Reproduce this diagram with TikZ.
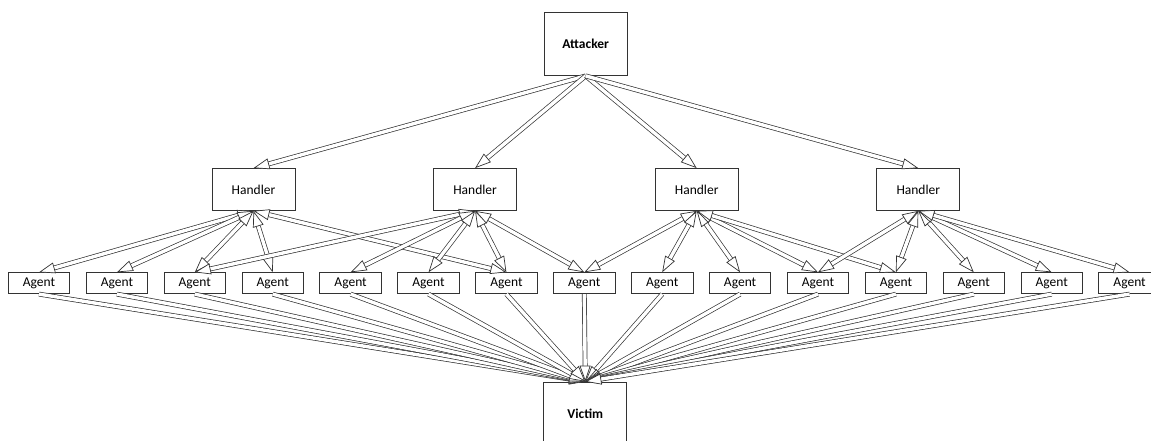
\documentclass[tikz,border=0pt]{standalone}
\usepackage{fontspec}
\setmainfont{Carlito}
\usetikzlibrary{arrows.meta}

\begin{document}
\begin{tikzpicture}[x=1pt,y=-1pt,
  box/.style={rectangle,draw=black!80,line width=0.8pt,inner sep=0pt,
    font=\fontsize{13.5}{16}\selectfont},
  bigbox/.style={box,minimum width=83pt,minimum height=63pt,font=\fontsize{13.5}{16}\selectfont\bfseries},
  handlerbox/.style={box,minimum width=83pt,minimum height=42pt},
  agentbox/.style={box,fill=white,minimum width=61.5pt,minimum height=21pt},
  blockarrow/.style={draw=black!80,line width=0.7pt,double=white,double distance=3.4pt,
    -{Triangle[length=16pt,width=11pt,fill=white]}},
  twoway/.style={blockarrow,{Triangle[length=16pt,width=11pt,fill=white]}-{Triangle[length=16pt,width=11pt,fill=white]}}]
\useasboundingbox (0,0) rectangle (1151,440);

\node[bigbox] (attacker) at (585.7,44) {Attacker};
\foreach \k in {1,...,4}
  \node[handlerbox] (h\k) at ({253.5+221.6*(\k-1)},189.5) {Handler};
\foreach \i in {1,...,15}
  \node[agentbox] (ag\i) at ({39+77.9*(\i-1)},283.2) {Agent};
\node[bigbox] (victim) at (585.3,413.5) {Victim};

% attacker to handlers
\foreach \k in {1,...,4}
  \draw[blockarrow] (attacker.south) -- (h\k.north);

% handlers and agents
\foreach \k/\i in {1/1,1/2,1/3,1/4,1/7,2/3,2/5,2/6,2/7,2/8,
    3/8,3/9,3/10,3/11,3/12,4/11,4/12,4/13,4/14,4/15}
  \draw[twoway] (h\k.south) -- (ag\i.north);

% agents to victim
\foreach \i in {1,...,15}
  \draw[blockarrow] (ag\i.south) -- (victim.north);
\end{tikzpicture}
\end{document}
